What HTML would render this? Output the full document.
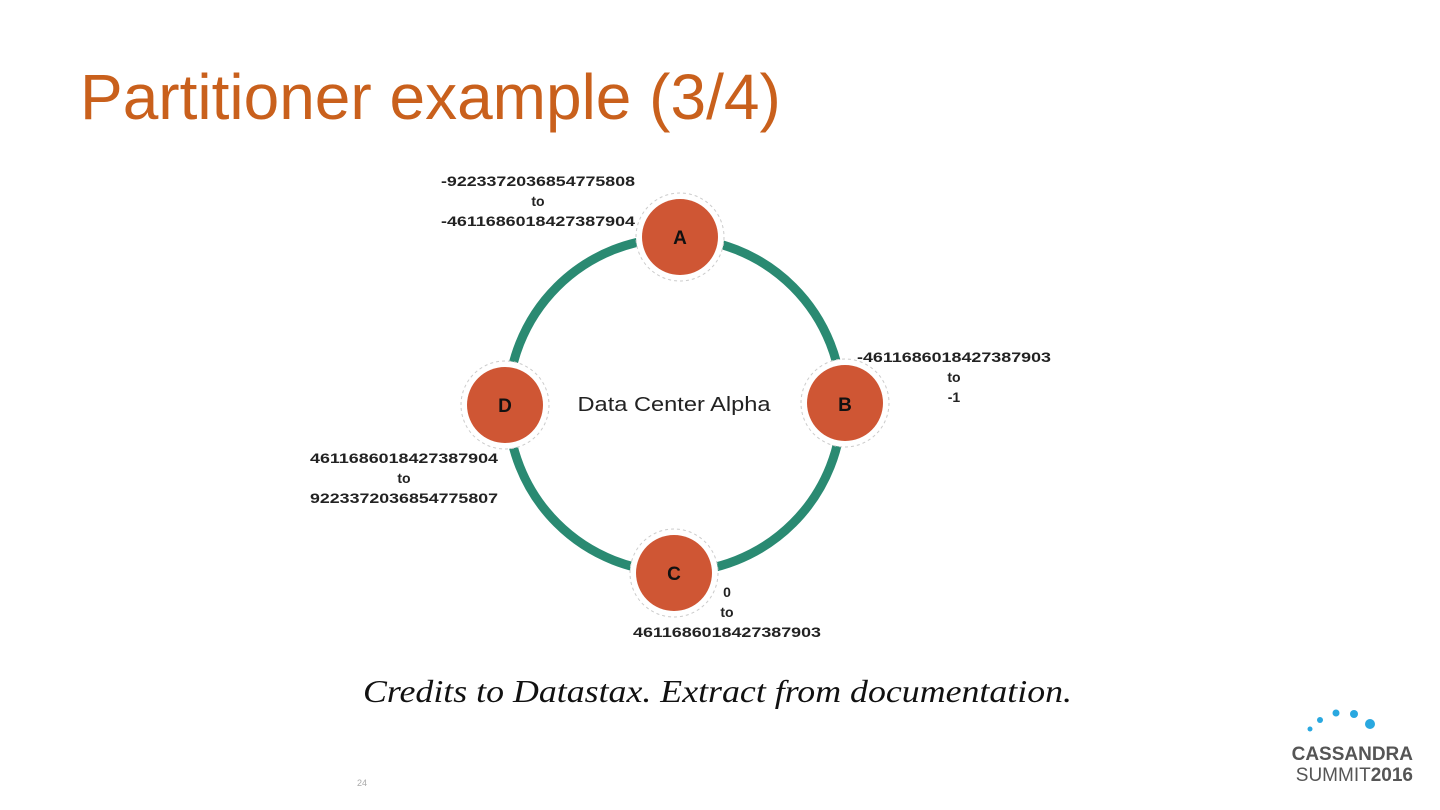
<!DOCTYPE html>
<html><head><style>
body{margin:0;width:1440px;height:810px;background:#fff;position:relative;overflow:hidden;font-family:"Liberation Sans",sans-serif}
.t{position:absolute;left:80px;top:60px;font-size:64px;color:#c9601c}
</style></head><body>
<div class="t">Partitioner example (3/4)</div>
<svg width="1440" height="810" style="position:absolute;left:0;top:0" font-family="Liberation Sans, sans-serif">
<circle cx="675" cy="405" r="167" fill="none" stroke="#2a8a72" stroke-width="9"/>
<g stroke="#ccc" stroke-dasharray="3 3" fill="#fff" stroke-width="1">
<circle cx="680" cy="237" r="44"/><circle cx="845" cy="403" r="44"/><circle cx="674" cy="573" r="44"/><circle cx="505" cy="405" r="44"/>
</g>
<g fill="#cf5634">
<circle cx="680" cy="237" r="38"/><circle cx="845" cy="403" r="38"/><circle cx="674" cy="573" r="38"/><circle cx="505" cy="405" r="38"/>
</g>
<g font-size="19" font-weight="bold" fill="#111" text-anchor="middle">
<text x="680" y="244">A</text><text x="845" y="411">B</text><text x="674" y="580">C</text><text x="505" y="412">D</text>
</g>
<text x="674" y="411" font-size="20" fill="#222" text-anchor="middle" textLength="193" lengthAdjust="spacingAndGlyphs">Data Center Alpha</text>
<g font-size="14" font-weight="bold" fill="#222" text-anchor="middle">
<text x="538" y="186" textLength="194" lengthAdjust="spacingAndGlyphs">-9223372036854775808</text><text x="538" y="206">to</text><text x="538" y="226" textLength="194" lengthAdjust="spacingAndGlyphs">-4611686018427387904</text>
<text x="954" y="362" textLength="194" lengthAdjust="spacingAndGlyphs">-4611686018427387903</text><text x="954" y="382">to</text><text x="954" y="402">-1</text>
<text x="404" y="463" textLength="188" lengthAdjust="spacingAndGlyphs">4611686018427387904</text><text x="404" y="483">to</text><text x="404" y="503" textLength="188" lengthAdjust="spacingAndGlyphs">9223372036854775807</text>
<text x="727" y="597">0</text><text x="727" y="617">to</text><text x="727" y="637" textLength="188" lengthAdjust="spacingAndGlyphs">4611686018427387903</text>
</g>
<text x="363" y="702" font-family="Liberation Serif, serif" font-style="italic" font-size="32" fill="#111" textLength="709" lengthAdjust="spacingAndGlyphs">Credits to Datastax. Extract from documentation.</text>
<text x="357" y="786" font-size="9" fill="#aaa">24</text>
<g fill="#29a8e0"><circle cx="1310" cy="729" r="2.5"/><circle cx="1320" cy="720" r="3"/><circle cx="1336" cy="713" r="3.5"/><circle cx="1354" cy="714" r="4"/><circle cx="1370" cy="724" r="5"/></g>
<text x="1413" y="760" font-size="19" font-weight="bold" fill="#555" text-anchor="end">CASSANDRA</text>
<text x="1413" y="781" font-size="19" fill="#555" text-anchor="end">SUMMIT<tspan font-weight="bold">2016</tspan></text>
</svg>
</body></html>
